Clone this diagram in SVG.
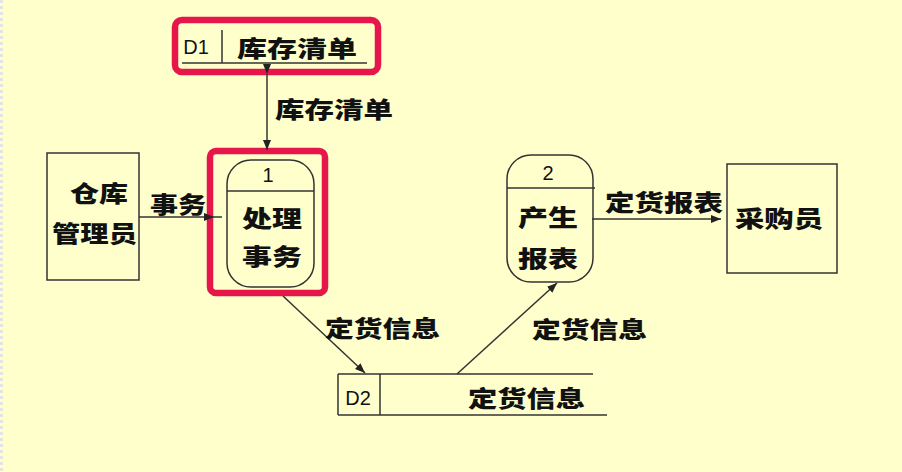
<svg xmlns="http://www.w3.org/2000/svg" width="902" height="472" viewBox="0 0 902 472">
  <defs>
    <marker id="arrow" viewBox="0 0 10 10" refX="10" refY="5" markerWidth="10" markerHeight="10" markerUnits="userSpaceOnUse" orient="auto">
      <path d="M0,1 L10,5 L0,9 Z" fill="#222"/>
    </marker>
    <style>
      .bg { fill: #FFFFCC; }
      .ln { stroke: #333; stroke-width: 1.5; fill: none; }
      .box { stroke: #333; stroke-width: 1.5; fill: none; }
      .hl { stroke: #E6164A; stroke-width: 6.5; fill: none; }
      .zh { font-family: "Noto Sans CJK SC", "Noto Sans", sans-serif; font-weight: 900; font-size: 23px; fill: #111; dominant-baseline: central; }
      .lat { font-family: "Liberation Sans", Arial, sans-serif; font-size: 20px; fill: #111; dominant-baseline: central; }
    </style>
  </defs>

  <rect class="bg" x="0" y="0" width="902" height="472"/>
  <line x1="1.5" y1="0" x2="1.5" y2="472" stroke="#e4e4e4" stroke-width="3" stroke-dasharray="3 3"/>

  <!-- data store D1 -->
  <g id="store-d1">
    <rect class="hl" x="175" y="20" width="203" height="52" rx="7"/>
    <line class="ln" x1="182" y1="63" x2="367" y2="63"/>
    <line class="ln" x1="222" y1="30" x2="222" y2="63"/>
    <text class="lat" x="196" y="47" text-anchor="middle">D1</text>
    <text class="zh" x="237" y="47" textLength="120" lengthAdjust="spacingAndGlyphs">库存清单</text>
  </g>

  <!-- external entity: warehouse manager -->
  <g id="entity-manager">
    <rect class="box" x="47" y="153" width="92" height="127"/>
    <text class="zh" x="70" y="192" textLength="58" lengthAdjust="spacingAndGlyphs">仓库</text>
    <text class="zh" x="52" y="232" textLength="85" lengthAdjust="spacingAndGlyphs">管理员</text>
  </g>

  <!-- process 1 -->
  <g id="process-1">
    <rect class="hl" x="210" y="151" width="115" height="142" rx="6"/>
    <rect class="box" x="227" y="160" width="87" height="127" rx="24"/>
    <line class="ln" x1="227" y1="191" x2="314" y2="191"/>
    <text class="lat" x="268" y="175" text-anchor="middle">1</text>
    <text class="zh" x="242" y="217" textLength="60" lengthAdjust="spacingAndGlyphs">处理</text>
    <text class="zh" x="242" y="255" textLength="60" lengthAdjust="spacingAndGlyphs">事务</text>
  </g>

  <!-- process 2 -->
  <g id="process-2">
    <rect class="box" x="507" y="155" width="86" height="127" rx="24"/>
    <line class="ln" x1="507" y1="188" x2="595" y2="188"/>
    <text class="lat" x="548" y="173" text-anchor="middle">2</text>
    <text class="zh" x="518" y="216" textLength="60" lengthAdjust="spacingAndGlyphs">产生</text>
    <text class="zh" x="518" y="257" textLength="60" lengthAdjust="spacingAndGlyphs">报表</text>
  </g>

  <!-- external entity: purchaser -->
  <g id="entity-purchaser">
    <rect class="box" x="727" y="164" width="110" height="109"/>
    <text class="zh" x="735" y="217" textLength="88" lengthAdjust="spacingAndGlyphs">采购员</text>
  </g>

  <!-- data store D2 -->
  <g id="store-d2">
    <line class="ln" x1="338" y1="374" x2="593" y2="374"/>
    <line class="ln" x1="338" y1="415" x2="607" y2="415"/>
    <line class="ln" x1="338" y1="374" x2="338" y2="415"/>
    <line class="ln" x1="380" y1="374" x2="380" y2="415"/>
    <text class="lat" x="358" y="398" text-anchor="middle">D2</text>
    <text class="zh" x="468" y="397" textLength="117" lengthAdjust="spacingAndGlyphs">定货信息</text>
  </g>

  <!-- data flows -->
  <g id="connectors">
    <line class="ln" x1="267" y1="74" x2="267" y2="150" marker-start="url(#arrow)" marker-end="url(#arrow)"/>
    <text class="zh" x="275" y="108" textLength="118" lengthAdjust="spacingAndGlyphs">库存清单</text>

    <line class="ln" x1="139" y1="217" x2="214" y2="217" marker-end="url(#arrow)"/>
    <line class="ln" x1="214" y1="217" x2="222" y2="217"/>
    <text class="zh" x="150" y="203" textLength="56" lengthAdjust="spacingAndGlyphs">事务</text>

    <line class="ln" x1="592" y1="219" x2="721" y2="219" marker-end="url(#arrow)"/>
    <text class="zh" x="605" y="201" textLength="118" lengthAdjust="spacingAndGlyphs">定货报表</text>

    <line class="ln" x1="283" y1="296" x2="365" y2="373" marker-end="url(#arrow)"/>
    <text class="zh" x="325" y="327" textLength="115" lengthAdjust="spacingAndGlyphs">定货信息</text>

    <line class="ln" x1="457" y1="374" x2="557" y2="283" marker-end="url(#arrow)"/>
    <text class="zh" x="532" y="328" textLength="115" lengthAdjust="spacingAndGlyphs">定货信息</text>
  </g>
</svg>
